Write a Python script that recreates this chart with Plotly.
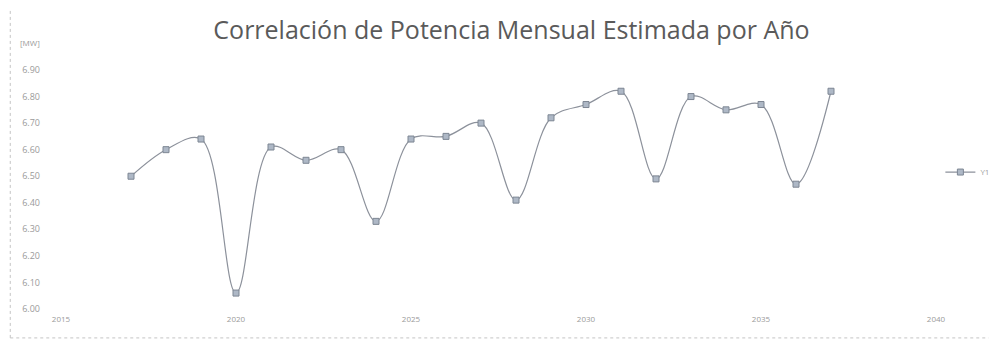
import plotly.graph_objects as go

# datos
years = list(range(2017, 2038))
potencia = [6.50, 6.60, 6.64, 6.06, 6.61, 6.56, 6.60, 6.33, 6.64, 6.65, 6.70,
            6.41, 6.72, 6.77, 6.82, 6.49, 6.80, 6.75, 6.77, 6.47, 6.82]
y_ticks = [6.00, 6.10, 6.20, 6.30, 6.40, 6.50, 6.60, 6.70, 6.80, 6.90]
x_ticks = [2015, 2020, 2025, 2030, 2035, 2040]

fig = go.Figure()
fig.add_trace(go.Scatter(
    x=years,
    y=potencia,
    mode="lines+markers",
    line=dict(color="#8c919b", width=1.2, shape="spline", smoothing=1.0),
    marker=dict(symbol="square", size=6, color="#aeb8c6",
                line=dict(color="#7d8693", width=1)),
    name="Y1"
))

fig.update_layout(
    width=999,
    height=344,
    paper_bgcolor="white",
    plot_bgcolor="white",
    margin=dict(l=53, r=46, t=62, b=43),
    title=dict(
        text="Correlación de Potencia Mensual Estimada por Año",
        x=0.504, xanchor="center", y=0.936, yanchor="middle",
        font=dict(family="Open Sans", size=25, color="#5a5a5a")
    ),
    font=dict(family="Open Sans", color="#9a9a9a", size=8),
    showlegend=True,
    legend=dict(x=1.005, y=0.573, xanchor="left", yanchor="middle",
                font=dict(size=8, color="#a0a0a0"), bgcolor="rgba(0,0,0,0)"),
    xaxis=dict(
        range=[2015, 2040],
        tickvals=x_ticks,
        ticktext=[str(v) for v in x_ticks],
        showgrid=False, zeroline=False, showline=False,
        ticks="", ticklabelstandoff=4
    ),
    yaxis=dict(
        range=[6.0, 6.9],
        tickvals=y_ticks,
        ticktext=["%.2f" % v for v in y_ticks],
        showgrid=False, zeroline=False, showline=False,
        ticks="", ticklabelstandoff=20, tickfont=dict(size=9)
    ),
    annotations=[dict(
        text="[MW]", xref="paper", yref="paper",
        x=-0.035, y=1.113, xanchor="center", yanchor="middle",
        showarrow=False, font=dict(size=8, color="#9a9a9a")
    )],
    shapes=[
        dict(type="line", xref="paper", yref="paper",
             x0=-0.058, x1=-0.058, y0=-0.121, y1=1.3,
             line=dict(color="#c4c4c4", width=1, dash="dot")),
        dict(type="line", xref="paper", yref="paper",
             x0=-0.058, x1=1.06, y0=-0.121, y1=-0.121,
             line=dict(color="#c4c4c4", width=1, dash="dot")),
    ]
)

fig.write_html("out.html")
